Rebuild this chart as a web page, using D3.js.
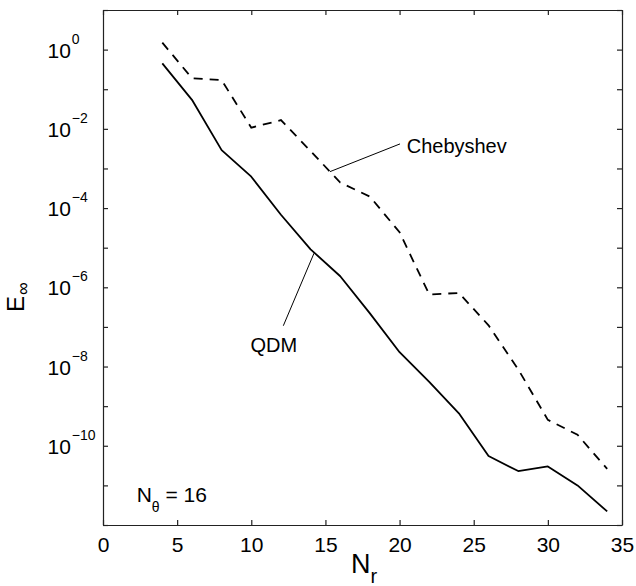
<!DOCTYPE html>
<html>
<head>
<meta charset="utf-8">
<script src="https://cdn.jsdelivr.net/npm/d3@7"></script>
<style>
  body { margin: 0; padding: 0; background: #fff; }
  text { font-family: "Liberation Sans", Arial, Helvetica, sans-serif; fill: #000; }
</style>
</head>
<body>
<div id="chart"></div>
<script>
// Data
const Nr = [4, 6, 8, 10, 12, 14, 16, 18, 20, 22, 24, 26, 28, 30, 32, 34];
const qdm = [0.45, 0.054, 2.9e-3, 6.2e-4, 6.8e-5, 9.1e-6, 1.9e-6, 2.2e-7, 2.3e-8,
             4.1e-9, 6.6e-10, 5.5e-11, 2.3e-11, 3.0e-11, 1.0e-11, 2.2e-12];
const cheb = [1.5, 0.19, 0.17, 0.0107, 0.0166, 2.75e-3, 4.4e-4, 1.95e-4, 2.45e-5,
              6.6e-7, 7.2e-7, 1.1e-7, 8.5e-9, 4.5e-10, 1.9e-10, 2.6e-11];
const xTicks = [0, 5, 10, 15, 20, 25, 30, 35];
const yExps = d3.range(-12, 2);            // tick at every decade
const yLabelExps = [0, -2, -4, -6, -8, -10]; // labelled decades

const width = 636, height = 586;
const margin = {left: 103, right: 14, top: 10, bottom: 61};

const svg = d3.select("#chart").append("svg")
    .attr("width", width)
    .attr("height", height);

const x = d3.scaleLinear().domain([0, 35]).range([margin.left, width - margin.right]);
const y = d3.scaleLog().domain([1e-12, 10]).range([height - margin.bottom, margin.top]);

const x0 = margin.left, x1 = width - margin.right;
const y0 = height - margin.bottom, y1 = margin.top;

// Axes: ticks point inwards, on all four sides
svg.append("g")
    .attr("transform", `translate(0,${y0})`)
    .call(d3.axisBottom(x).tickValues(xTicks).tickSize(-5).tickSizeOuter(0).tickFormat(d3.format("d")))
    .call(g => g.selectAll("text").attr("y", 27).attr("dy", 0).style("font-size", "21px"));

svg.append("g")
    .attr("transform", `translate(0,${y1})`)
    .call(d3.axisTop(x).tickValues(xTicks).tickSize(-5).tickSizeOuter(0).tickFormat(""));

svg.append("g")
    .attr("transform", `translate(${x0},0)`)
    .call(d3.axisLeft(y).tickValues(yExps.map(e => Math.pow(10, e))).tickSize(-5).tickSizeOuter(0).tickFormat(""));

svg.append("g")
    .attr("transform", `translate(${x1},0)`)
    .call(d3.axisRight(y).tickValues(yExps.map(e => Math.pow(10, e))).tickSize(-5).tickSizeOuter(0).tickFormat(""));

svg.selectAll(".domain, .tick line").attr("stroke", "#222").attr("stroke-width", 1.2);

// y tick labels: 10 with superscript exponent
const yl = svg.append("g").selectAll("text")
    .data(yLabelExps)
    .enter().append("text")
    .attr("x", 47.5)
    .attr("y", d => y(Math.pow(10, d)) + 8)
    .style("font-size", "21px");
yl.append("tspan").text("10");
yl.append("tspan")
    .attr("dx", 1)
    .attr("dy", -14)
    .style("font-size", "14px")
    .text(d => d < 0 ? "\u2212" + (-d) : String(d));

// Lines
const line = d3.line()
    .x((d, i) => x(Nr[i]))
    .y(d => y(d));

svg.append("path")
    .datum(qdm)
    .attr("fill", "none")
    .attr("stroke", "#000")
    .attr("stroke-width", 1.8)
    .attr("stroke-linejoin", "round")
    .attr("d", line);

svg.append("path")
    .datum(cheb)
    .attr("fill", "none")
    .attr("stroke", "#000")
    .attr("stroke-width", 1.8)
    .attr("stroke-dasharray", "9,7")
    .attr("d", line);

// Annotations (data coordinates)
const leaders = [
    {from: [15.31, -3.08], to: [20.03, -2.38]},
    {from: [12.16, -6.97], to: [14.23, -5.14]}
];
svg.append("g").selectAll("line")
    .data(leaders)
    .enter().append("line")
    .attr("x1", d => x(d.from[0])).attr("y1", d => y(Math.pow(10, d.from[1])))
    .attr("x2", d => x(d.to[0])).attr("y2", d => y(Math.pow(10, d.to[1])))
    .attr("stroke", "#000").attr("stroke-width", 1);

svg.append("text")
    .attr("x", x(20.48)).attr("y", y(Math.pow(10, -2.61)))
    .style("font-size", "20px")
    .text("Chebyshev");

svg.append("text")
    .attr("x", x(9.95)).attr("y", y(Math.pow(10, -7.64)))
    .style("font-size", "20px")
    .text("QDM");

const nt = svg.append("text")
    .attr("x", x(2.27)).attr("y", y(Math.pow(10, -11.42)))
    .style("font-size", "21px");
nt.append("tspan").text("N");
nt.append("tspan").attr("dy", 10).style("font-size", "14px").text("\u03b8");
nt.append("tspan").attr("dy", -10).text(" = 16");

// Axis titles
const xt = svg.append("text")
    .attr("x", 351)
    .attr("y", 573)
    .style("font-size", "27px");
xt.append("tspan").text("N");
xt.append("tspan").attr("dy", 10).style("font-size", "20px").text("r");

const yt = svg.append("text")
    .attr("transform", "translate(24,312) rotate(-90)")
    .style("font-size", "24px");
yt.append("tspan").text("E");
yt.append("tspan").attr("dy", 5).attr("dx", 1).style("font-size", "18px").text("\u221e");
</script>
</body>
</html>
